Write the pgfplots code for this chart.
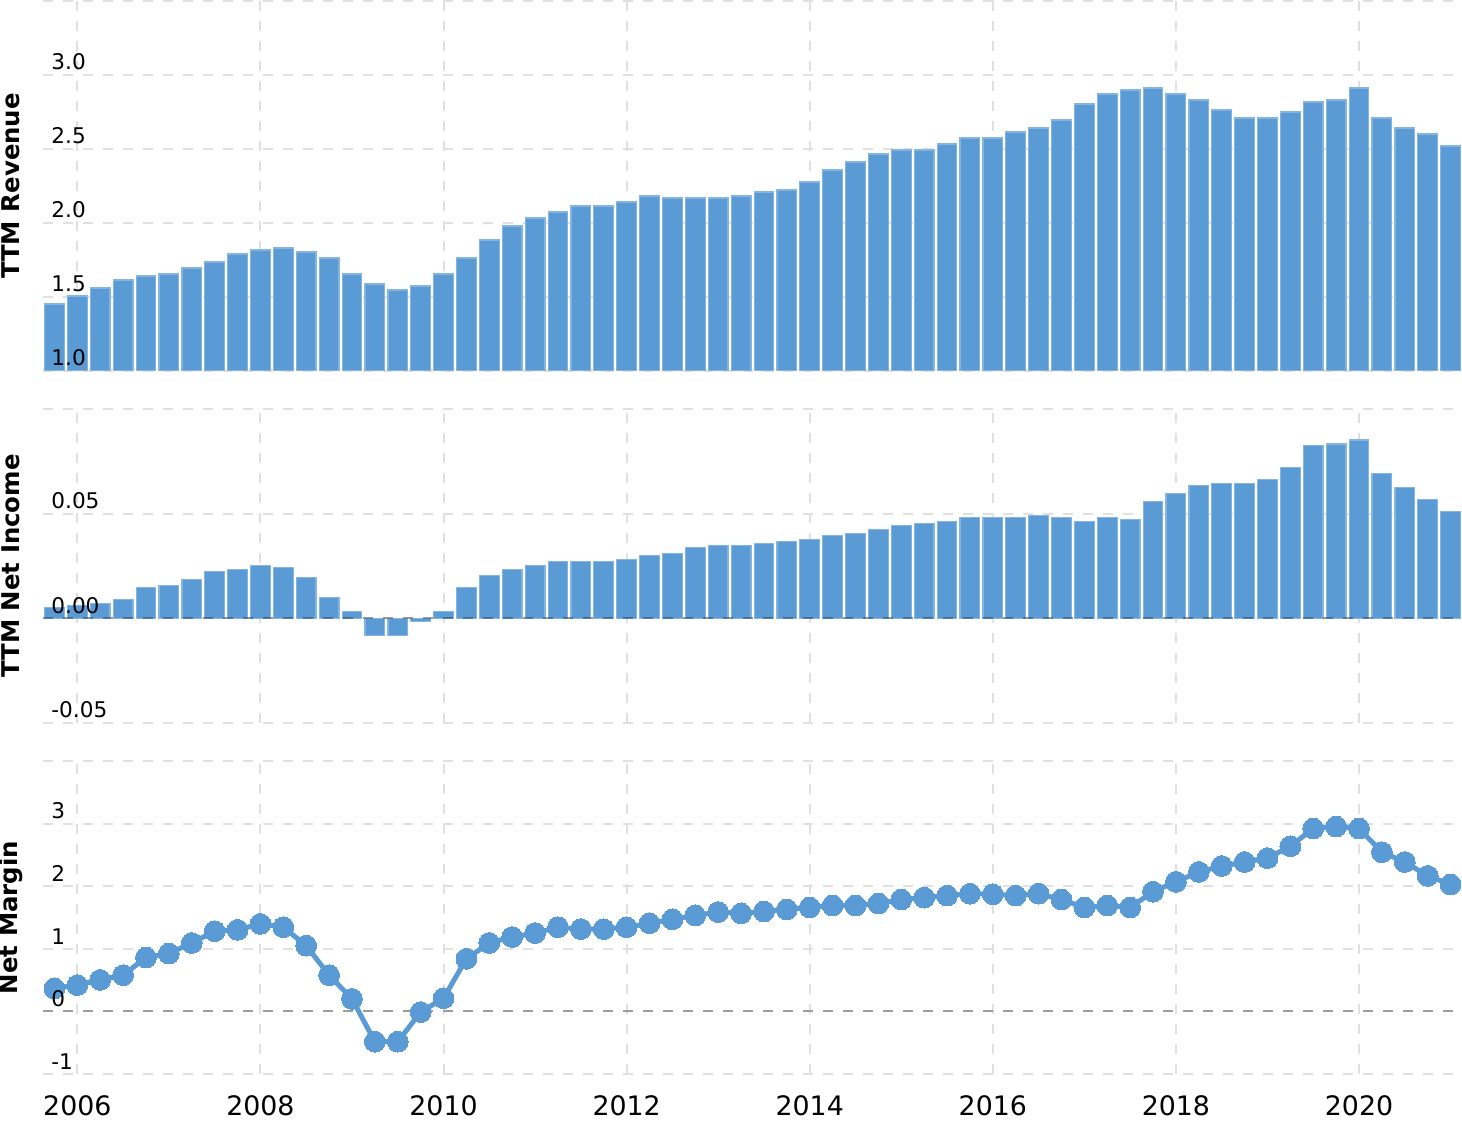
\documentclass[border=0pt]{standalone}
\usepackage{pgfplots}
\usepackage{pgfplotstable}
\pgfplotsset{compat=1.18}
\usepackage{fontspec}
\setmainfont{DejaVu Sans}
\definecolor{barblue}{HTML}{5B9BD5}
\definecolor{gridgray}{HTML}{E0E0E0}

\pgfplotstableread{
x rev ni nm
2005.75 1.453 0.0052 0.368
2006.00 1.507 0.0062 0.420
2006.25 1.561 0.0071 0.504
2006.50 1.615 0.0090 0.578
2006.75 1.642 0.0148 0.862
2007.00 1.655 0.0157 0.925
2007.25 1.696 0.0186 1.093
2007.50 1.736 0.0224 1.282
2007.75 1.791 0.0233 1.303
2008.00 1.818 0.0252 1.398
2008.25 1.831 0.0243 1.345
2008.50 1.804 0.0195 1.051
2008.75 1.764 0.0100 0.578
2009.00 1.655 0.0033 0.200
2009.25 1.588 -0.0081 -0.483
2009.50 1.547 -0.0081 -0.483
2009.75 1.574 -0.0014 -0.011
2010.00 1.655 0.0033 0.210
2010.25 1.764 0.0148 0.841
2010.50 1.885 0.0205 1.093
2010.75 1.980 0.0233 1.188
2011.00 2.034 0.0252 1.251
2011.25 2.074 0.0271 1.345
2011.50 2.115 0.0271 1.314
2011.75 2.115 0.0271 1.314
2012.00 2.142 0.0281 1.345
2012.25 2.182 0.0300 1.408
2012.50 2.169 0.0310 1.471
2012.75 2.169 0.0338 1.534
2013.00 2.169 0.0348 1.587
2013.25 2.182 0.0348 1.566
2013.50 2.209 0.0357 1.597
2013.75 2.223 0.0367 1.629
2014.00 2.277 0.0376 1.661
2014.25 2.358 0.0395 1.692
2014.50 2.412 0.0405 1.692
2014.75 2.466 0.0424 1.724
2015.00 2.493 0.0443 1.787
2015.25 2.493 0.0452 1.818
2015.50 2.534 0.0462 1.850
2015.75 2.574 0.0481 1.881
2016.00 2.574 0.0481 1.871
2016.25 2.615 0.0481 1.850
2016.50 2.642 0.0490 1.881
2016.75 2.696 0.0481 1.787
2017.00 2.804 0.0462 1.661
2017.25 2.872 0.0481 1.692
2017.50 2.899 0.0471 1.661
2017.75 2.912 0.0557 1.913
2018.00 2.872 0.0595 2.070
2018.25 2.831 0.0633 2.228
2018.50 2.764 0.0643 2.323
2018.75 2.709 0.0643 2.386
2019.00 2.709 0.0662 2.449
2019.25 2.750 0.0719 2.638
2019.50 2.818 0.0824 2.922
2019.75 2.831 0.0833 2.953
2020.00 2.912 0.0852 2.922
2020.25 2.709 0.0690 2.543
2020.50 2.642 0.0624 2.386
2020.75 2.601 0.0567 2.165
2021.00 2.520 0.0510 2.028
}\datatable

\pgfplotsset{
  layers/labelsontop/.define layer set={
    axis background,axis grid,axis ticks,axis lines,pre main,main,axis tick labels,axis descriptions,axis foreground
  }{/pgfplots/layers/standard},
  panel/.style={
    set layers=labelsontop,
    scale only axis, width=709.5pt,
    anchor=south west,
    xmin=2005.625, xmax=2021.125,
    xtick={2006,2008,2010,2012,2014,2016,2018,2020},
    grid=major,
    grid style={draw=gridgray, line width=1pt, dash pattern=on 5pt off 5pt},
    axis line style={draw=none},
    tick style={draw=none},
    clip mode=individual,
    yticklabel style={anchor=south west, inner sep=0pt, xshift=4pt, yshift=2.2pt, font=\fontsize{10.8}{12}\selectfont},
    xticklabel style={anchor=base, inner sep=0pt, yshift=-20.5pt, font=\fontsize{13.4}{15}\selectfont},
    every axis y label/.style={at={(axis description cs:-0.0225,0.5)}, rotate=90, anchor=center, font=\bfseries\fontsize{12.2}{14}\selectfont},
  },
  barstyle/.style={ybar, bar width=0.215, fill=barblue, draw=barblue!75!white, line width=0.6pt},
}

\begin{document}
\begin{tikzpicture}

\begin{axis}[panel, at={(21.5pt,374.5pt)}, height=185pt,
  ymin=1, ymax=3.5,
  ytick={1,1.5,2,2.5,3,3.5}, yticklabels={1.0,1.5,2.0,2.5,3.0,},
  xticklabels={,,,,,,,},
  ylabel={TTM Revenue}]
\addplot[barstyle] table[x=x, y=rev] {\datatable};
\end{axis}

\begin{axis}[panel, at={(21.5pt,198.5pt)}, height=157pt,
  ymin=-0.05, ymax=0.1,
  ytick={-0.05,0,0.05,0.1}, yticklabels={-0.05,0.00,0.05,},
  xticklabels={,,,,,,,},
  ylabel={TTM Net Income}]
\addplot[barstyle] table[x=x, y=ni] {\datatable};
\addplot[black, opacity=0.3, line width=1pt, dash pattern=on 5pt off 5pt, forget plot] coordinates {(2005.625,0) (2021.125,0)};
\end{axis}

\begin{axis}[panel, at={(21.5pt,23pt)}, height=156.5pt,
  ymin=-1, ymax=4,
  ytick={-1,0,1,2,3,4}, yticklabels={-1,0,1,2,3,},
  xticklabels={2006,2008,2010,2012,2014,2016,2018,2020},
  ylabel={Net Margin}]
\addplot[black, opacity=0.3, line width=1pt, dash pattern=on 5pt off 5pt, forget plot] coordinates {(2005.625,0) (2021.125,0)};
\addplot[barblue, line width=2.5pt, mark=*, mark size=5.2pt, mark options={fill=barblue, draw=barblue, line width=0pt}] table[x=x, y=nm] {\datatable};
\end{axis}

\pgfresetboundingbox
\path[use as bounding box] (0,0) rectangle (731pt,560pt);
\end{tikzpicture}
\end{document}
